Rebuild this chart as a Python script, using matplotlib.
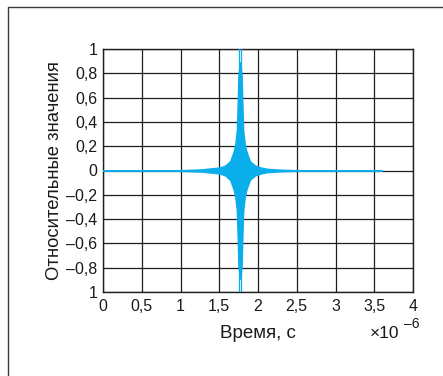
import matplotlib
matplotlib.use("Agg")
import matplotlib.pyplot as plt
from matplotlib.lines import Line2D

plt.rcParams['font.family'] = ['Liberation Sans', 'DejaVu Sans']

# Envelope of the compressed pulse, time in microseconds
env_t = [0.0, 0.4, 0.77, 1.07, 1.27, 1.42, 1.50, 1.57, 1.633, 1.678,
         1.698, 1.718, 1.731, 1.738, 1.753, 1.768, 1.783, 1.798, 1.805,
         1.818, 1.838, 1.858, 1.903, 1.968, 2.038, 2.118, 2.268, 2.468,
         2.768, 3.1, 3.6]
env_a = [0.004, 0.005, 0.006, 0.01, 0.015, 0.025, 0.03, 0.045, 0.08, 0.16,
         0.22, 0.33, 0.6, 0.78, 0.88, 0.9, 0.88, 0.78, 0.6,
         0.33, 0.22, 0.16, 0.08, 0.045, 0.03, 0.02, 0.013, 0.009,
         0.006, 0.005, 0.004]

# Two outermost oscillation peaks reaching full scale
peak_t = [1.752, 1.783]
peak_a = [1.0, 1.0]

xticks = [0, 0.5, 1, 1.5, 2, 2.5, 3, 3.5, 4]
xtick_labels = ['0', '0,5', '1', '1,5', '2', '2,5', '3', '3,5', '4']
yticks = [1, 0.8, 0.6, 0.4, 0.2, 0, -0.2, -0.4, -0.6, -0.8, -1]
ytick_labels = ['1', '0,8', '0,6', '0,4', '0,2', '0',
                '–0,2', '–0,4', '–0,6', '–0,8', '1']

color = '#0aaeea'
ink = '#1a1a1a'
W, H = 443, 376

fig = plt.figure(figsize=(W / 100, H / 100), dpi=100)
# outer frame: only the left and top edges fall inside the canvas
fig.lines.append(Line2D([7.5 / W, 7.5 / W, 1.0], [0.0, 1 - 6.5 / H, 1 - 6.5 / H],
                        transform=fig.transFigure, color='#3a3a3a', linewidth=1.0))

ax = fig.add_axes([103 / W, 1 - 292 / H, 310 / W, 243 / H])

neg = [-a for a in env_a]
ax.fill_between(env_t, neg, env_a, color=color, linewidth=0, zorder=3)
ax.plot([env_t[0], env_t[-1]], [0, 0], color=color, linewidth=1.4, zorder=3)
for t, a in zip(peak_t, peak_a):
    ax.plot([t, t], [-a, a], color=color, linewidth=0.9, zorder=3)

ax.set_xlim(0, 4)
ax.set_ylim(-1, 1)
ax.set_xticks(xticks)
ax.set_xticklabels(xtick_labels)
ax.set_yticks(yticks)
ax.set_yticklabels(ytick_labels)
ax.tick_params(length=0, labelsize=11.5, colors=ink, pad=5)
ax.tick_params(axis='y', pad=4)
ax.grid(True, color='#1e1e1e', linewidth=0.9)
ax.set_axisbelow(True)
for s in ax.spines.values():
    s.set_color('#1e1e1e')
    s.set_linewidth(1.0)

ax.set_xlabel('Время, с', fontsize=13.5, color=ink, labelpad=8)
ax.set_ylabel('Относительные значения', fontsize=13.3, color=ink, labelpad=2)

fig.text(370 / W, 1 - 338 / H, '×10', fontsize=12.5, color=ink)
fig.text(404 / W, 1 - 328 / H, '–6', fontsize=10, color=ink)

fig.savefig('out.png', dpi=100)
